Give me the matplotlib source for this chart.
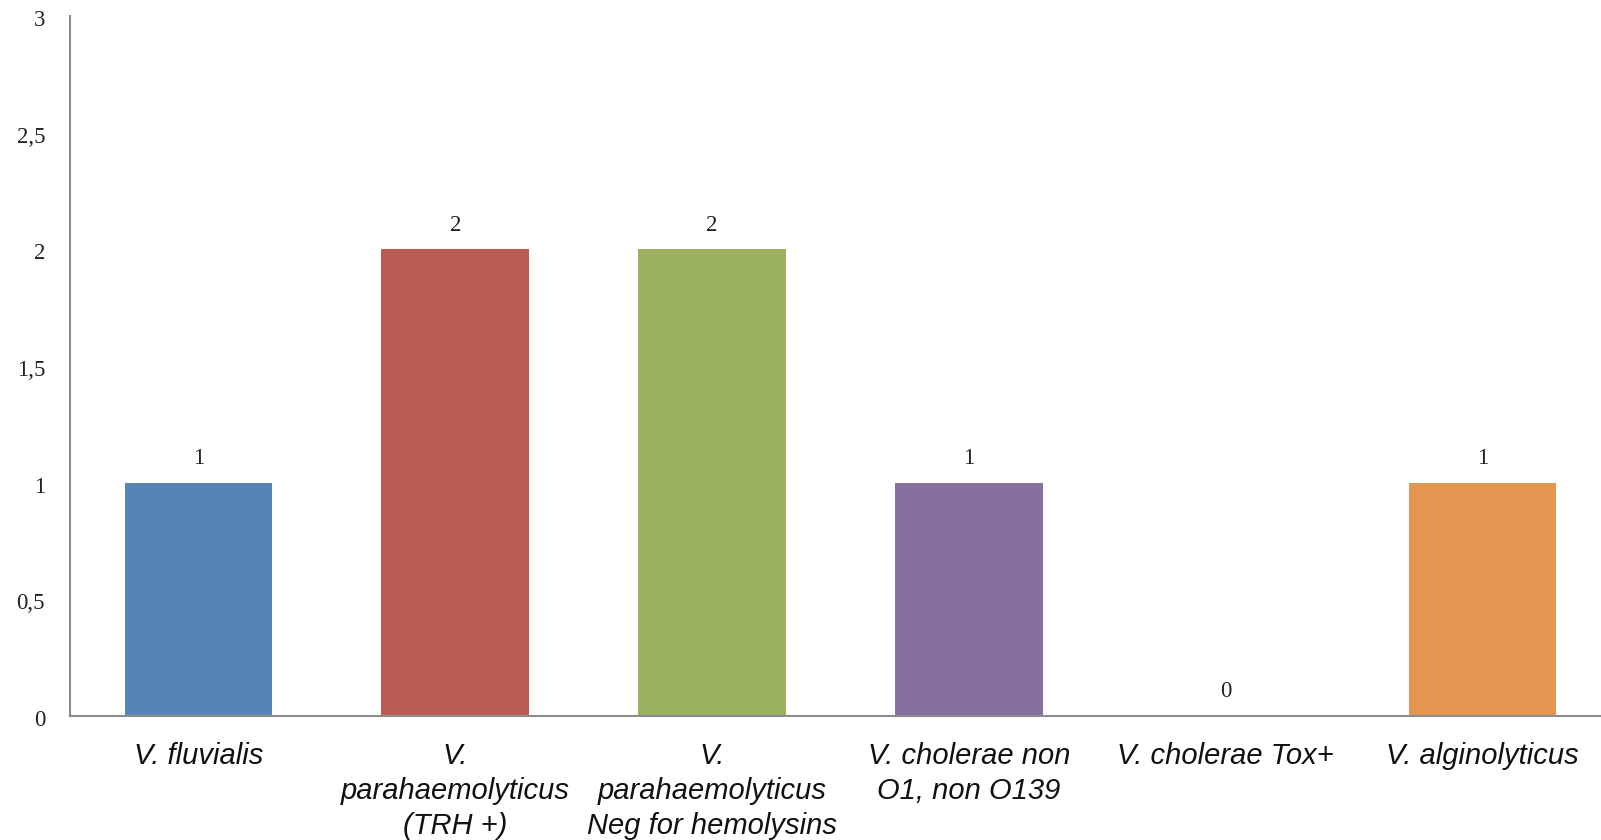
import matplotlib
matplotlib.use("Agg")
import matplotlib.pyplot as plt
import matplotlib.transforms as mtransforms
from matplotlib.ticker import FuncFormatter

categories = [
    "V. fluvialis",
    "V.\nparahaemolyticus\n(TRH +)",
    "V.\nparahaemolyticus\nNeg for hemolysins",
    "V. cholerae non\nO1, non O139",
    "V. cholerae Tox+",
    "V. alginolyticus",
]
counts = [1, 2, 2, 1, 0, 1]
bar_colors = ["#5585B6", "#BA5B55", "#9BB160", "#8570A0", "#8570A0", "#E2964F"]
y_ticks = [0, 0.5, 1, 1.5, 2, 2.5, 3]

fig = plt.figure(figsize=(16.01, 8.40), dpi=100)
ax = fig.add_axes([70 / 1601, 124 / 840, (1611 - 70) / 1601, (716 - 16) / 840])

x = list(range(len(categories)))
ax.bar(x, counts, width=0.575, color=bar_colors, zorder=2)

ax.set_xlim(-0.5, len(categories) - 0.5)
ax.set_ylim(0, 3)
ax.set_yticks(y_ticks)
ax.yaxis.set_major_formatter(
    FuncFormatter(lambda v, p: (f"{v:g}").replace(".", ","))
)
ax.tick_params(axis="y", length=0, pad=18, labelsize=16.5, labelcolor="#222222")
shift_down = mtransforms.ScaledTranslation(0, -2 / 100, fig.dpi_scale_trans)
for lbl in ax.get_yticklabels():
    lbl.set_fontfamily("Liberation Serif")
    lbl.set_transform(lbl.get_transform() + shift_down)

ax.set_xticks(x)
ax.set_xticklabels(categories, fontfamily="Liberation Sans", fontstyle="italic",
                   fontsize=21, linespacing=1.33, color="#111111")
ax.tick_params(axis="x", length=0, pad=18.5)

for side in ["top", "right"]:
    ax.spines[side].set_visible(False)
for side in ["left", "bottom"]:
    ax.spines[side].set_color("#8c8c8c")
    ax.spines[side].set_linewidth(1.5)

for xi, val in zip(x, counts):
    ax.annotate(str(val), (xi, val), xytext=(0, 17.5), textcoords="offset points",
                ha="center", va="center", fontfamily="Liberation Serif",
                fontsize=16.5, color="#222222")

fig.savefig("out.png", dpi=100)
